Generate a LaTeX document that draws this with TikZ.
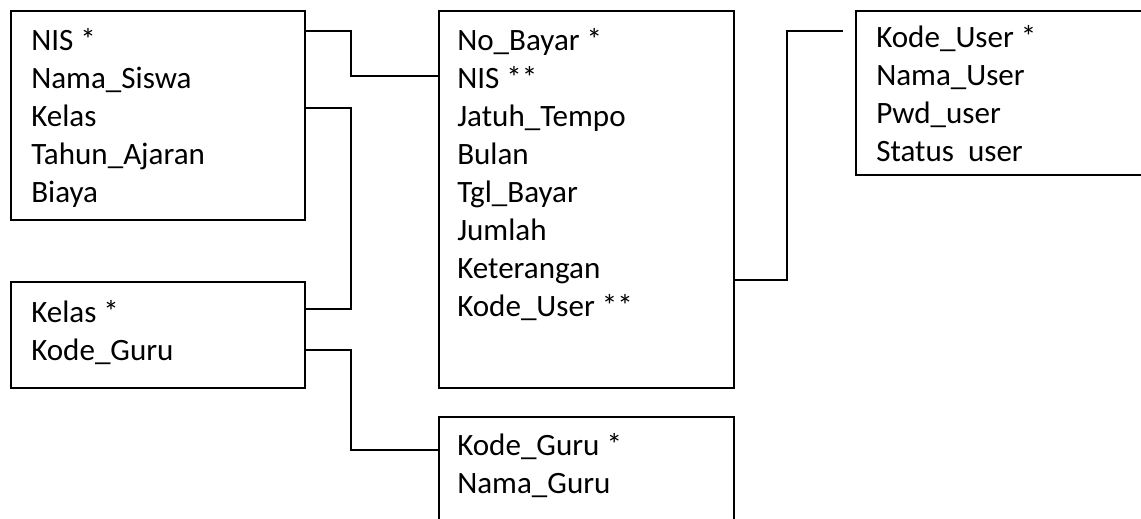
\documentclass[tikz,border=0pt]{standalone}
\usepackage{fontspec}
\setmainfont{Carlito}
\usetikzlibrary{calc}
\tikzset{
  tabel/.style={draw, line width=1.3pt, rectangle, anchor=north west, inner sep=0pt},
  kolom/.style={anchor=base west, inner sep=0pt, font=\fontsize{23.3}{28}\selectfont},
  garis/.style={line width=1.3pt}
}
\begin{document}
\begin{tikzpicture}[x=0.75pt,y=-0.75pt]
            \useasboundingbox (0,0) rectangle (1141,518);
            \clip (0,0) rectangle (1141,518);
            % tabel
            \node[tabel, minimum width=220.5pt, minimum height=156.75pt] (siswa) at (10,10) {};
            \node[tabel, minimum width=221.25pt, minimum height=282.75pt] (bayar) at (438,10) {};
            \node[tabel, minimum width=220.5pt, minimum height=79.5pt] (kelas) at (10,281) {};
            \node[tabel, minimum width=228.75pt, minimum height=123pt] (user) at (855,10) {};
            \node[tabel, minimum width=221.25pt, minimum height=93pt] (guru) at (438,416) {};
            % siswa
            \node[kolom] (s1) at (31,50) {NIS *};
            \node[kolom] (s2) at (31,88) {Nama\_Siswa};
            \node[kolom] (s3) at (31,126) {Kelas};
            \node[kolom] (s4) at (31,164) {Tahun\_Ajaran};
            \node[kolom] (s5) at (31,202) {Biaya};
            % bayar
            \node[kolom] (b1) at (457,50) {No\_Bayar *};
            \node[kolom] (b2) at (457,88) {NIS **};
            \node[kolom] (b3) at (457,126) {Jatuh\_Tempo};
            \node[kolom] (b4) at (457,164) {Bulan};
            \node[kolom] (b5) at (457,202) {Tgl\_Bayar};
            \node[kolom] (b6) at (457,240) {Jumlah};
            \node[kolom] (b7) at (457,278) {Keterangan};
            \node[kolom] (b8) at (457,316) {Kode\_User **};
            % kelas
            \node[kolom] (k1) at (31,322) {Kelas *};
            \node[kolom] (k2) at (31,360) {Kode\_Guru};
            % user
            \node[kolom] (u1) at (876,47) {Kode\_User *};
            \node[kolom] (u2) at (876,85) {Nama\_User};
            \node[kolom] (u3) at (876,123) {Pwd\_user};
            \node[kolom] (u4) at (876,161) {Status\ \ user};
            % guru
            \node[kolom] (g1) at (457,455) {Kode\_Guru *};
            \node[kolom] (g2) at (457,493) {Nama\_Guru};
            % relasi
            \coordinate (ujung) at ($(user.north west)+(-12,21)$);
            \draw[garis] ($(siswa.north east)+(0,21)$) -- ++(45,0) |- ($(bayar.north west)+(0,66)$);
            \draw[garis] ($(siswa.north east)+(0,98)$) -- ++(45,0) |- ($(kelas.north east)+(0,28)$);
            \draw[garis] ($(kelas.north east)+(0,69)$) -- ++(45,0) |- ($(guru.north west)+(0,34)$);
            \draw[garis] ($(bayar.north east)+(0,270)$) -- ++(52,0) |- (ujung);
\end{tikzpicture}
\end{document}
